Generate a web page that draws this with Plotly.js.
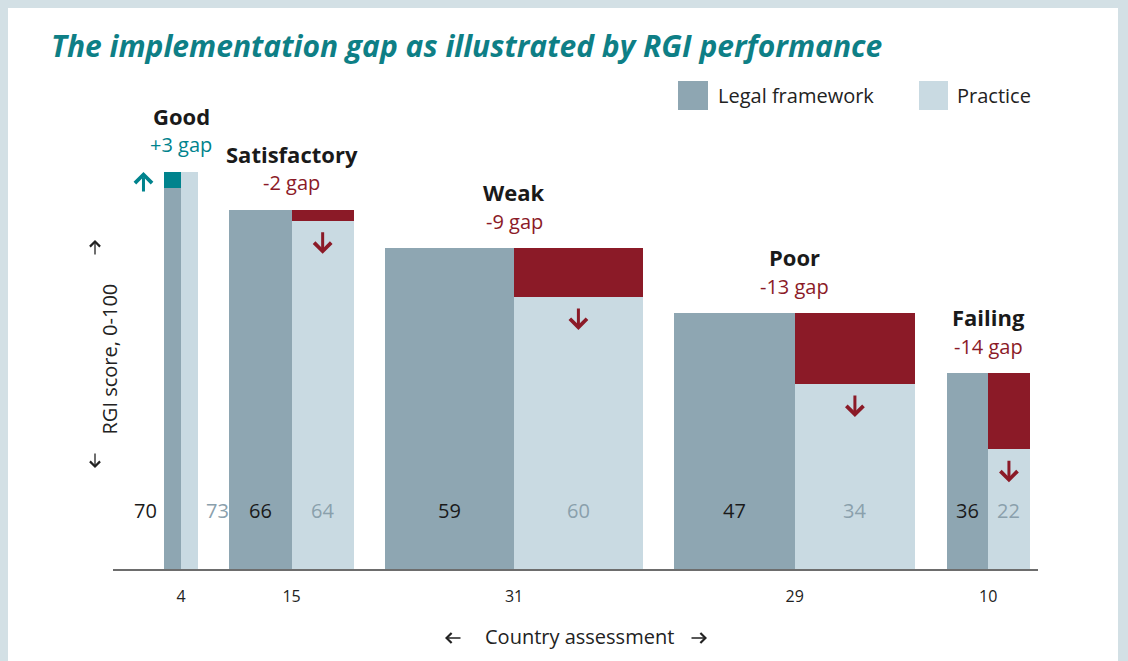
<!DOCTYPE html>
<html>
<head>
<meta charset="utf-8">
<script src="https://cdn.plot.ly/plotly-3.0.1.min.js"></script>
<style>
  html, body { margin: 0; padding: 0; background: #d3e0e5; }
  #chart { width: 1128px; height: 661px; }
</style>
</head>
<body>
<div id="chart"></div>
<script>
// ---- data ----
const categories = ['Good', 'Satisfactory', 'Weak', 'Poor', 'Failing'];
const countries = [4, 15, 31, 29, 10];
const legal = [70, 66, 59, 47, 36];
const practice = [73, 64, 50, 34, 22];
const legalLabels = ['70', '66', '59', '47', '36'];
const practiceLabels = ['73', '64', '60', '34', '22'];
const seriesNames = ['Legal framework', 'Practice'];
const titleText = 'The implementation gap as illustrated by RGI performance';
const xTitle = 'Country assessment';
const yTitle = 'RGI score, 0-100';

// ---- style / layout constants ----
const C_LEGAL = '#8ea6b2';
const C_PRACT = '#c9dae2';
const C_RED = '#8b1a27';
const C_TEAL = '#00838d';
const C_TITLE = '#0e7f86';
const C_TEXT = '#222222';
const FONT = 'Open Sans, Noto Sans, sans-serif';
const GAP = 3.8;             // spacing between groups (country units)
const XR = [-6.2, 105.2];
const YR = [0, 100];
const M = {l: 113, r: 90, t: 25, b: 92};
const W = 1128, H = 661;
const PW = W - M.l - M.r, PH = H - M.t - M.b;
const xp = p => (p - M.l) / PW;          // pixel -> paper x
const yp = p => (H - M.b - p) / PH;      // pixel -> paper y

// ---- derived geometry from counts ----
const starts = [];
let acc = 0;
countries.forEach((c, i) => { starts.push(acc + i * GAP); acc += c; });
const centers = starts.map((s, i) => s + countries[i] / 2);
const halfW = countries.map(c => c / 2);
const legalX = starts.map((s, i) => s + countries[i] / 4);
const practX = starts.map((s, i) => s + 3 * countries[i] / 4);
const gaps = practice.map((p, i) => p - legal[i]);

const traces = [
  {type: 'bar', name: seriesNames[0], x: legalX, y: legal, width: halfW,
   marker: {color: C_LEGAL, line: {width: 0}}, showlegend: false, hoverinfo: 'skip'},
  {type: 'bar', name: seriesNames[1], x: practX, y: practice, width: halfW,
   marker: {color: C_PRACT, line: {width: 0}}, showlegend: false, hoverinfo: 'skip'},
  {type: 'bar', name: 'gap',
   x: gaps.map((g, i) => g > 0 ? legalX[i] : practX[i]),
   base: gaps.map((g, i) => Math.min(legal[i], practice[i])),
   y: gaps.map(g => Math.abs(g)), width: halfW,
   marker: {color: gaps.map(g => g > 0 ? C_TEAL : C_RED), line: {width: 0}},
   showlegend: false, hoverinfo: 'skip'}
];

const ann = [];
// title
ann.push({xref: 'paper', yref: 'paper', x: xp(49), y: yp(46), xanchor: 'left', yanchor: 'middle',
  text: titleText, showarrow: false,
  font: {family: FONT, size: 30, color: C_TITLE, weight: 700, style: 'italic'}});

// category and gap labels, value labels, arrows
const pxPerUnit = PW / (XR[1] - XR[0]);
categories.forEach((cat, i) => {
  const top = Math.max(legal[i], practice[i]);
  const gcol = gaps[i] > 0 ? C_TEAL : C_RED;
  ann.push({x: centers[i], y: top, xref: 'x', yref: 'y', yanchor: 'middle', yshift: 56,
    text: '<b>' + cat + '</b>', showarrow: false,
    font: {family: FONT, size: 22, color: '#1a1a1a'}});
  ann.push({x: centers[i], y: top, xref: 'x', yref: 'y', yanchor: 'middle', yshift: 27,
    text: (gaps[i] > 0 ? '+' : '') + gaps[i] + ' gap', showarrow: false,
    font: {family: FONT, size: 20, color: gcol}});
  const colPx = halfW[i] * pxPerUnit;
  const narrow = colPx < 30;
  // legal value
  ann.push({x: narrow ? starts[i] : legalX[i], y: 10.8, xref: 'x', yref: 'y',
    xanchor: narrow ? 'right' : 'center', xshift: narrow ? -5 : 0, yanchor: 'middle',
    text: legalLabels[i], showarrow: false,
    font: {family: FONT, size: 20, color: '#1a1a1a'}});
  // practice value
  ann.push({x: narrow ? starts[i] + countries[i] : practX[i], y: 10.8, xref: 'x', yref: 'y',
    xanchor: narrow ? 'left' : 'center', xshift: narrow ? 6 : 0, yanchor: 'middle',
    text: practiceLabels[i], showarrow: false,
    font: {family: FONT, size: 20, color: '#8aa0ac'}});
  // gap arrows
  if (gaps[i] > 0) {
    ann.push({x: starts[i], y: top, xref: 'x', yref: 'y', xshift: -21, text: '',
      showarrow: true, ax: 0, ay: 21, arrowhead: 4, arrowsize: 1.1, arrowwidth: 3,
      arrowcolor: C_TEAL, standoff: 0});
  } else {
    ann.push({x: practX[i], y: practice[i], xref: 'x', yref: 'y', yshift: -33, text: '',
      showarrow: true, ax: 0, ay: -23, arrowhead: 4, arrowsize: 1.1, arrowwidth: 3,
      arrowcolor: C_RED, standoff: 0});
  }
});

// axis titles
ann.push({xref: 'paper', yref: 'paper', x: xp(93), y: yp(359), textangle: -90, yanchor: 'middle',
  text: yTitle, showarrow: false, font: {family: FONT, size: 20, color: C_TEXT}});
ann.push({xref: 'paper', yref: 'paper', x: xp(95), y: yp(240), text: '', showarrow: true,
  ax: 0, ay: 16, arrowhead: 4, arrowsize: 1.5, arrowwidth: 1.3, arrowcolor: C_TEXT, standoff: 0});
ann.push({xref: 'paper', yref: 'paper', x: xp(95), y: yp(468), text: '', showarrow: true,
  ax: 0, ay: -16, arrowhead: 4, arrowsize: 1.5, arrowwidth: 1.3, arrowcolor: C_TEXT, standoff: 0});
ann.push({xref: 'paper', yref: 'paper', x: xp(579), y: yp(636), yanchor: 'middle', text: xTitle,
  showarrow: false, font: {family: FONT, size: 20, color: C_TEXT}});
ann.push({xref: 'paper', yref: 'paper', x: xp(445), y: yp(638), text: '', showarrow: true,
  ax: 17, ay: 0, arrowhead: 4, arrowsize: 1.5, arrowwidth: 1.3, arrowcolor: C_TEXT, standoff: 0});
ann.push({xref: 'paper', yref: 'paper', x: xp(707), y: yp(638), text: '', showarrow: true,
  ax: -17, ay: 0, arrowhead: 4, arrowsize: 1.5, arrowwidth: 1.3, arrowcolor: C_TEXT, standoff: 0});

// legend
ann.push({xref: 'paper', yref: 'paper', x: xp(716), y: yp(96), xanchor: 'left', yanchor: 'middle',
  text: seriesNames[0], showarrow: false, font: {family: FONT, size: 20, color: C_TEXT}});
ann.push({xref: 'paper', yref: 'paper', x: xp(955), y: yp(96), xanchor: 'left', yanchor: 'middle',
  text: seriesNames[1], showarrow: false, font: {family: FONT, size: 20, color: C_TEXT}});

const shapes = [
  {type: 'rect', xref: 'paper', yref: 'paper', x0: xp(8), x1: xp(1118), y0: yp(8), y1: yp(700),
   fillcolor: '#ffffff', line: {width: 0}, layer: 'below'},
  {type: 'rect', xref: 'paper', yref: 'paper', x0: xp(678), x1: xp(708), y0: yp(81), y1: yp(110),
   fillcolor: C_LEGAL, line: {width: 0}},
  {type: 'rect', xref: 'paper', yref: 'paper', x0: xp(919), x1: xp(948), y0: yp(81), y1: yp(110),
   fillcolor: C_PRACT, line: {width: 0}}
];

const layout = {
  width: W, height: H, margin: M,
  paper_bgcolor: '#d3e0e5', plot_bgcolor: 'rgba(0,0,0,0)',
  barmode: 'overlay', bargap: 0,
  showlegend: false,
  font: {family: FONT},
  xaxis: {range: XR, showgrid: false, zeroline: false, showline: true, linecolor: '#6d6d6d',
    linewidth: 1.5, ticks: '', tickvals: centers, ticktext: countries.map(String),
    tickfont: {family: FONT, size: 16, color: C_TEXT}, ticklabelstandoff: 12, fixedrange: true},
  yaxis: {range: YR, visible: false, fixedrange: true},
  annotations: ann,
  shapes: shapes
};

Plotly.newPlot('chart', traces, layout, {displayModeBar: false, staticPlot: true});
</script>
</body>
</html>
